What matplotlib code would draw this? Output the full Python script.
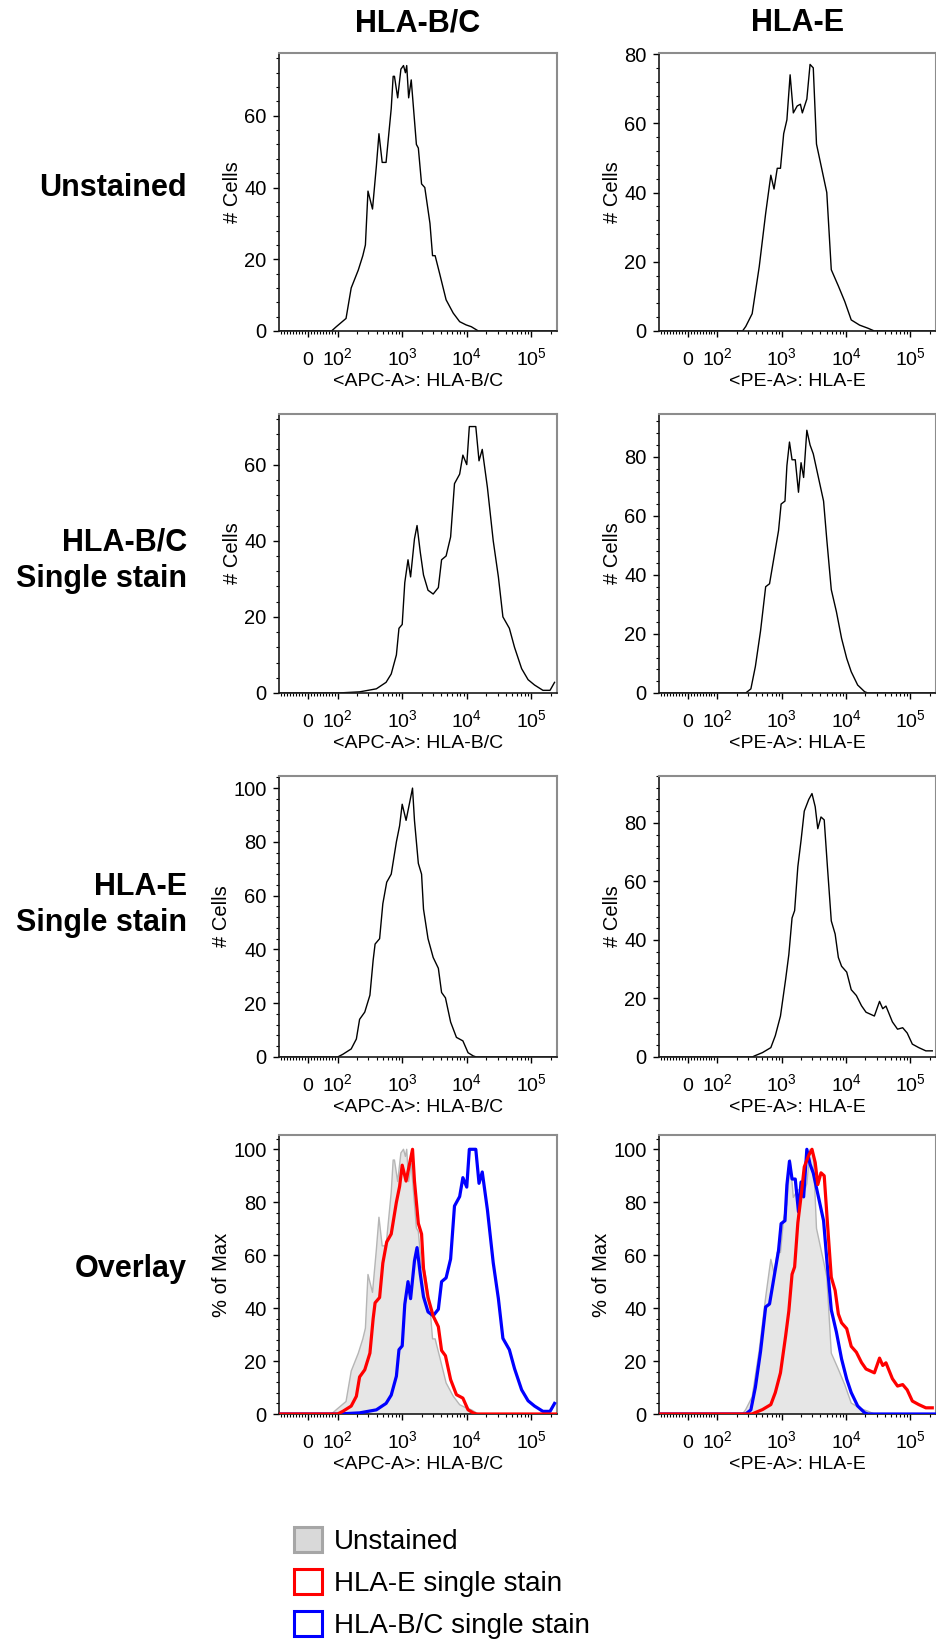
import numpy as np
import matplotlib
matplotlib.use("Agg")
import matplotlib.pyplot as plt
from matplotlib.patches import Patch
from matplotlib.ticker import FixedLocator, MultipleLocator

plt.rcParams['font.family'] = ['Liberation Sans', 'DejaVu Sans']
plt.rcParams['mathtext.fontset'] = 'custom'
plt.rcParams['mathtext.rm'] = 'Liberation Sans'
plt.rcParams['mathtext.it'] = 'Liberation Sans:italic'
plt.rcParams['mathtext.bf'] = 'Liberation Sans:bold'

# ---- data: histograms (x in log10 of fluorescence) ----
col_titles = ['HLA-B/C', 'HLA-E']
row_labels = ['Unstained', 'HLA-B/C\nSingle stain', 'HLA-E\nSingle stain', 'Overlay']
x_labels = ['<APC-A>: HLA-B/C', '<PE-A>: HLA-E']
legend_labels = ['Unstained', 'HLA-E single stain', 'HLA-B/C single stain']

# unstained, APC channel
unst_apc_lg = [1.90, 1.98, 2.13, 2.21, 2.32, 2.39, 2.43, 2.47, 2.54, 2.60, 2.64, 2.69, 2.75,
               2.83, 2.86, 2.88, 2.93, 2.98, 3.02, 3.05, 3.07, 3.10, 3.14, 3.22, 3.25, 3.30,
               3.35, 3.43, 3.47, 3.51, 3.58, 3.68, 3.79, 3.89, 3.99, 4.07, 4.18]
unst_apc = [0, 1.2, 3.5, 12, 17, 21, 24, 39, 34, 46, 55, 47, 47,
            62, 71, 71, 65, 73, 74, 72, 74, 65, 70, 52, 51, 41,
            40, 30, 21, 21, 16, 8.7, 5, 2.6, 1.7, 1.2, 0]

# unstained, PE channel
unst_pe_lg = [2.39, 2.44, 2.54, 2.65, 2.75, 2.83, 2.88, 2.93, 2.98, 3.03, 3.08, 3.13, 3.18,
              3.24, 3.29, 3.32, 3.39, 3.44, 3.49, 3.54, 3.62, 3.70, 3.77, 3.88, 3.98, 4.08,
              4.21, 4.34, 4.44]
unst_pe = [0, 1.3, 5, 18.6, 34, 45, 41, 47, 47, 57, 61, 74, 63,
           65, 65.5, 63, 67, 77, 76, 54, 47, 40, 17.7, 13, 8.5, 3.2,
           1.7, 0.8, 0]

# HLA-B/C single stain, APC channel
bc_apc_lg = [2.00, 2.34, 2.60, 2.75, 2.83, 2.91, 2.95, 3.00, 3.04, 3.09, 3.13, 3.19, 3.23,
             3.28, 3.33, 3.40, 3.48, 3.56, 3.61, 3.68, 3.75, 3.81, 3.89, 3.94, 4.00, 4.04,
             4.14, 4.19, 4.24, 4.32, 4.41, 4.49, 4.56, 4.66, 4.74, 4.85, 4.95, 5.05, 5.18,
             5.29, 5.36]
bc_apc = [0, 0.3, 1.1, 2.8, 5, 10, 17, 18, 29, 35, 30.5, 40.5, 44,
          37, 31, 27, 26, 27.7, 35, 36, 41, 55, 57.5, 62.5, 60, 70,
          70, 61, 64, 54, 40, 30.5, 20, 17, 12, 6.4, 3.5, 2.1, 0.7,
          0.7, 2.8]

# HLA-B/C single stain, PE channel
bc_pe_lg = [2.44, 2.52, 2.59, 2.67, 2.75, 2.81, 2.88, 2.95, 2.99, 3.05, 3.08, 3.12, 3.16,
            3.21, 3.26, 3.30, 3.34, 3.39, 3.44, 3.49, 3.57, 3.65, 3.70, 3.77, 3.85, 3.93,
            4.01, 4.08, 4.18, 4.29, 4.34]
bc_pe = [0, 1.4, 9, 21, 36, 37, 46, 55, 64, 65, 77, 85, 79,
         79, 68, 78, 73, 89, 84, 81, 73, 65, 52, 35, 27.5, 18.5,
         11.7, 7.2, 2.7, 0.4, 0]

# HLA-E single stain, APC channel
e_apc_lg = [2.00, 2.08, 2.21, 2.29, 2.34, 2.42, 2.50, 2.55, 2.58, 2.65, 2.70, 2.76, 2.83,
            2.91, 2.96, 3.00, 3.06, 3.11, 3.16, 3.19, 3.25, 3.30, 3.33, 3.40, 3.48, 3.56,
            3.61, 3.67, 3.75, 3.84, 3.94, 4.02, 4.10, 4.15]
e_apc = [0, 1, 3, 6.7, 14, 16.7, 23, 36, 42, 44, 57, 65, 68,
         80, 86, 94, 88, 94, 100, 88, 72, 68, 55, 44, 37, 33,
         24, 22, 13, 7.3, 6, 1.6, 0.4, 0]

# HLA-E single stain, PE channel
e_pe_lg = [2.54, 2.59, 2.70, 2.83, 2.90, 2.98, 3.06, 3.11, 3.16, 3.20, 3.25, 3.30, 3.35,
           3.42, 3.47, 3.52, 3.56, 3.61, 3.66, 3.71, 3.77, 3.83, 3.88, 3.93, 4.01, 4.08,
           4.16, 4.24, 4.31, 4.44, 4.52, 4.57, 4.62, 4.72, 4.80, 4.88, 4.95, 5.03, 5.13,
           5.24, 5.34]
e_pe = [0, 0.5, 1.5, 3.2, 7.3, 14, 26.5, 35, 47.5, 50, 65, 74, 84,
        88, 90, 85.5, 78, 82, 81, 65, 46.5, 42, 34, 31, 29, 23,
        21, 17.5, 15.3, 14, 19, 16.5, 17.4, 12, 9.5, 10, 8.2, 4.4, 3.2,
        2.1, 2.1]

# y-axis tops of the single-stain panels (rows x columns)
count_ymax = [[77.5, 80.3], [73.3, 94.5], [104.5, 96]]

W, H = 937, 1641
XMIN, XMAX = -97, 2.5e5
col_x = [(279, 557), (659, 936)]
row_y = [(53, 331), (414, 693), (776, 1057), (1135, 1414)]

fig = plt.figure(figsize=(W / 100, H / 100), dpi=100)


def make_ax(r, c):
    x0, x1 = col_x[c]
    y0, y1 = row_y[r]
    ax = fig.add_axes([x0 / W, 1 - y1 / H, (x1 - x0) / W, (y1 - y0) / H])
    ax.set_xscale('symlog', linthresh=100, linscale=0.415)
    ax.set_xlim(XMIN, XMAX)
    ax.set_xticks([0, 1e2, 1e3, 1e4, 1e5])
    ax.set_xticklabels(['0', r'$\mathregular{10^2}$', r'$\mathregular{10^3}$',
                        r'$\mathregular{10^4}$', r'$\mathregular{10^5}$'])
    for lbl in ax.get_xticklabels():
        lbl.set_verticalalignment('baseline')
    minors = [v for v in range(-90, 100, 10) if v != 0]
    for d in [2, 3, 4]:
        minors += [k * 10 ** d for k in range(2, 10)]
    minors += [2e5]
    ax.xaxis.set_minor_locator(FixedLocator(minors))
    ax.yaxis.set_major_locator(MultipleLocator(20))
    ax.yaxis.set_minor_locator(MultipleLocator(4))
    ax.tick_params(axis='x', which='major', direction='out', length=4.5, width=1,
                   labelsize=14, pad=20)
    ax.tick_params(axis='x', which='minor', direction='out', length=2.2, width=0.8)
    ax.tick_params(axis='y', which='major', direction='out', length=4, width=1,
                   labelsize=14.5, pad=5)
    ax.tick_params(axis='y', which='minor', direction='out', length=2, width=0.8)
    ax.tick_params(top=False, right=False)
    for s in ['left', 'bottom']:
        ax.spines[s].set_color('#1a1a1a')
        ax.spines[s].set_linewidth(1.2)
    for s in ['top', 'right']:
        ax.spines[s].set_color('#8c8c8c')
        ax.spines[s].set_linewidth(1.5)
    ax.set_xlabel(x_labels[c], fontsize=14)
    ax.xaxis.label.set_verticalalignment('baseline')
    ax.xaxis.set_label_coords(0.5, -55 / (y1 - y0))
    return ax


def xs(lg):
    return np.concatenate([[XMIN], 10 ** np.array(lg)])


def ys(v):
    return np.concatenate([[0], np.array(v, dtype=float)])


singles = [[(unst_apc_lg, unst_apc), (unst_pe_lg, unst_pe)],
           [(bc_apc_lg, bc_apc), (bc_pe_lg, bc_pe)],
           [(e_apc_lg, e_apc), (e_pe_lg, e_pe)]]

for r in range(3):
    for c in range(2):
        ax = make_ax(r, c)
        lg, v = singles[r][c]
        x, y = xs(lg), ys(v)
        if y[-1] == 0:
            x = np.append(x, XMAX)
            y = np.append(y, 0)
        ax.plot(x, y, color='black', lw=1.0)
        ax.set_ylim(0, count_ymax[r][c])
        ax.set_ylabel('# Cells', fontsize=14.5, labelpad=1.5)

# overlay row: each histogram normalised to its own maximum
for c in range(2):
    ax = make_ax(3, c)
    ax.set_ylim(0, 105.4)
    ax.set_ylabel('% of Max', fontsize=14.5, labelpad=1.5)
    curves = []
    for r in range(3):
        lg, v = singles[r][c]
        x, y = xs(lg), ys(v)
        y = y / y.max() * 100
        if y[-1] == 0:
            x = np.append(x, XMAX)
            y = np.append(y, 0)
        curves.append((x, y))
    gx, gy = curves[0]
    ax.fill_between(gx, 0, gy, facecolor='#e6e6e6', edgecolor='none', zorder=1)
    ax.plot(gx, gy, color='#b5b5b5', lw=1.0, zorder=2)
    bx, by = curves[1]
    ax.plot(bx, by, color='#0000ff', lw=2.3, zorder=3)
    rx, ry = curves[2]
    ax.plot(rx, ry, color='#ff0000', lw=2.3, zorder=4)

# column titles and row labels
for c in range(2):
    x0, x1 = col_x[c]
    fig.text((x0 + x1) / 2 / W, 1 - 23 / H, col_titles[c], ha='center', va='center',
             fontsize=22, fontweight='bold')
row_label_y = [188, 561, 905, 1269]
for r in range(4):
    fig.text(187 / W, 1 - row_label_y[r] / H, row_labels[r], ha='right', va='center',
             fontsize=22, fontweight='bold', linespacing=1.3)

handles = [Patch(facecolor='#d9d9d9', edgecolor='#a6a6a6', lw=2.2),
           Patch(facecolor='white', edgecolor='#ff0000', lw=2.2),
           Patch(facecolor='white', edgecolor='#0000ff', lw=2.2)]
fig.legend(handles, legend_labels, loc='upper left', bbox_to_anchor=(294 / W, 1 - 1527 / H),
           frameon=False, fontsize=20, handlelength=1.0, handleheight=1.0,
           handletextpad=0.45, labelspacing=0.5, borderpad=0, borderaxespad=0)

fig.savefig('out.png', dpi=100)
